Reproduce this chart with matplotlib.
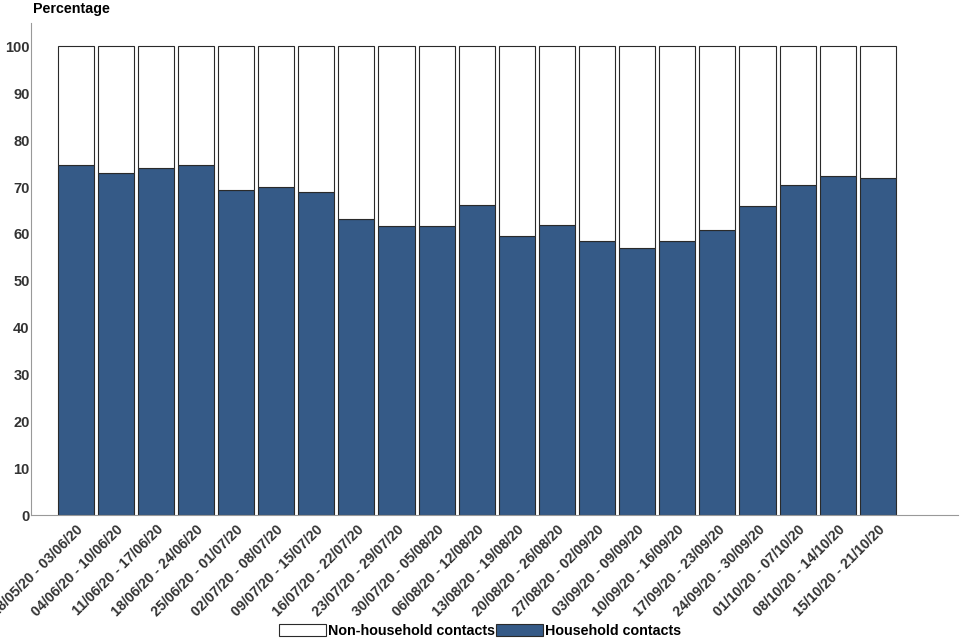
import matplotlib.pyplot as plt
import numpy as np

plt.rcParams['font.family'] = ['Liberation Sans', 'DejaVu Sans']
plt.rcParams['font.weight'] = 'bold'

weeks = ["28/05/20 - 03/06/20", "04/06/20 - 10/06/20", "11/06/20 - 17/06/20",
         "18/06/20 - 24/06/20", "25/06/20 - 01/07/20", "02/07/20 - 08/07/20",
         "09/07/20 - 15/07/20", "16/07/20 - 22/07/20", "23/07/20 - 29/07/20",
         "30/07/20 - 05/08/20", "06/08/20 - 12/08/20", "13/08/20 - 19/08/20",
         "20/08/20 - 26/08/20", "27/08/20 - 02/09/20", "03/09/20 - 09/09/20",
         "10/09/20 - 16/09/20", "17/09/20 - 23/09/20", "24/09/20 - 30/09/20",
         "01/10/20 - 07/10/20", "08/10/20 - 14/10/20", "15/10/20 - 21/10/20"]
household = [74.8, 73.1, 74.1, 74.8, 69.4, 70.1, 69.0, 63.1, 61.8, 61.8, 66.2,
             59.6, 62.0, 58.5, 57.1, 58.5, 60.9, 66.0, 70.5, 72.4, 72.0]
non_household = [100 - h for h in household]

fig = plt.figure(figsize=(9.6, 6.4), dpi=100)
ax = fig.add_axes([0.032, 0.195, 0.966, 0.769])

x = np.arange(len(weeks))
ax.bar(x, household, width=0.9, color='#355a87', edgecolor='#2a2a2a',
       linewidth=0.8, label='Household contacts')
ax.bar(x, non_household, width=0.9, bottom=household, color='white',
       edgecolor='#2a2a2a', linewidth=0.8, label='Non-household contacts')

ax.set_xlim(-1.12, 22.0)
ax.set_ylim(0, 105)
ax.set_yticks(range(0, 101, 10))
ax.set_xticks(x)
ax.set_xticklabels(weeks, rotation=45, ha='right', va='top',
                   rotation_mode='anchor', fontsize=10.2, color='#333333')
ax.tick_params(axis='both', length=0, colors='#333333')
ax.tick_params(axis='y', labelsize=10.5, pad=0.8)
ax.tick_params(axis='x', pad=5)

for s in ['top', 'right']:
    ax.spines[s].set_visible(False)
for s in ['left', 'bottom']:
    ax.spines[s].set_color('#999999')
    ax.spines[s].set_linewidth(0.8)

fig.text(0.034, 0.986, 'Percentage', fontsize=10.3, fontweight='bold', va='center')

handles, labels = ax.get_legend_handles_labels()
fig.legend(handles[::-1], labels[::-1], loc='lower center', ncol=2,
           bbox_to_anchor=(0.5, -0.017), frameon=False, fontsize=10.3,
           handlelength=3.3, handleheight=0.9, columnspacing=0.1,
           handletextpad=0.1)

fig.savefig('out.png', dpi=100)
